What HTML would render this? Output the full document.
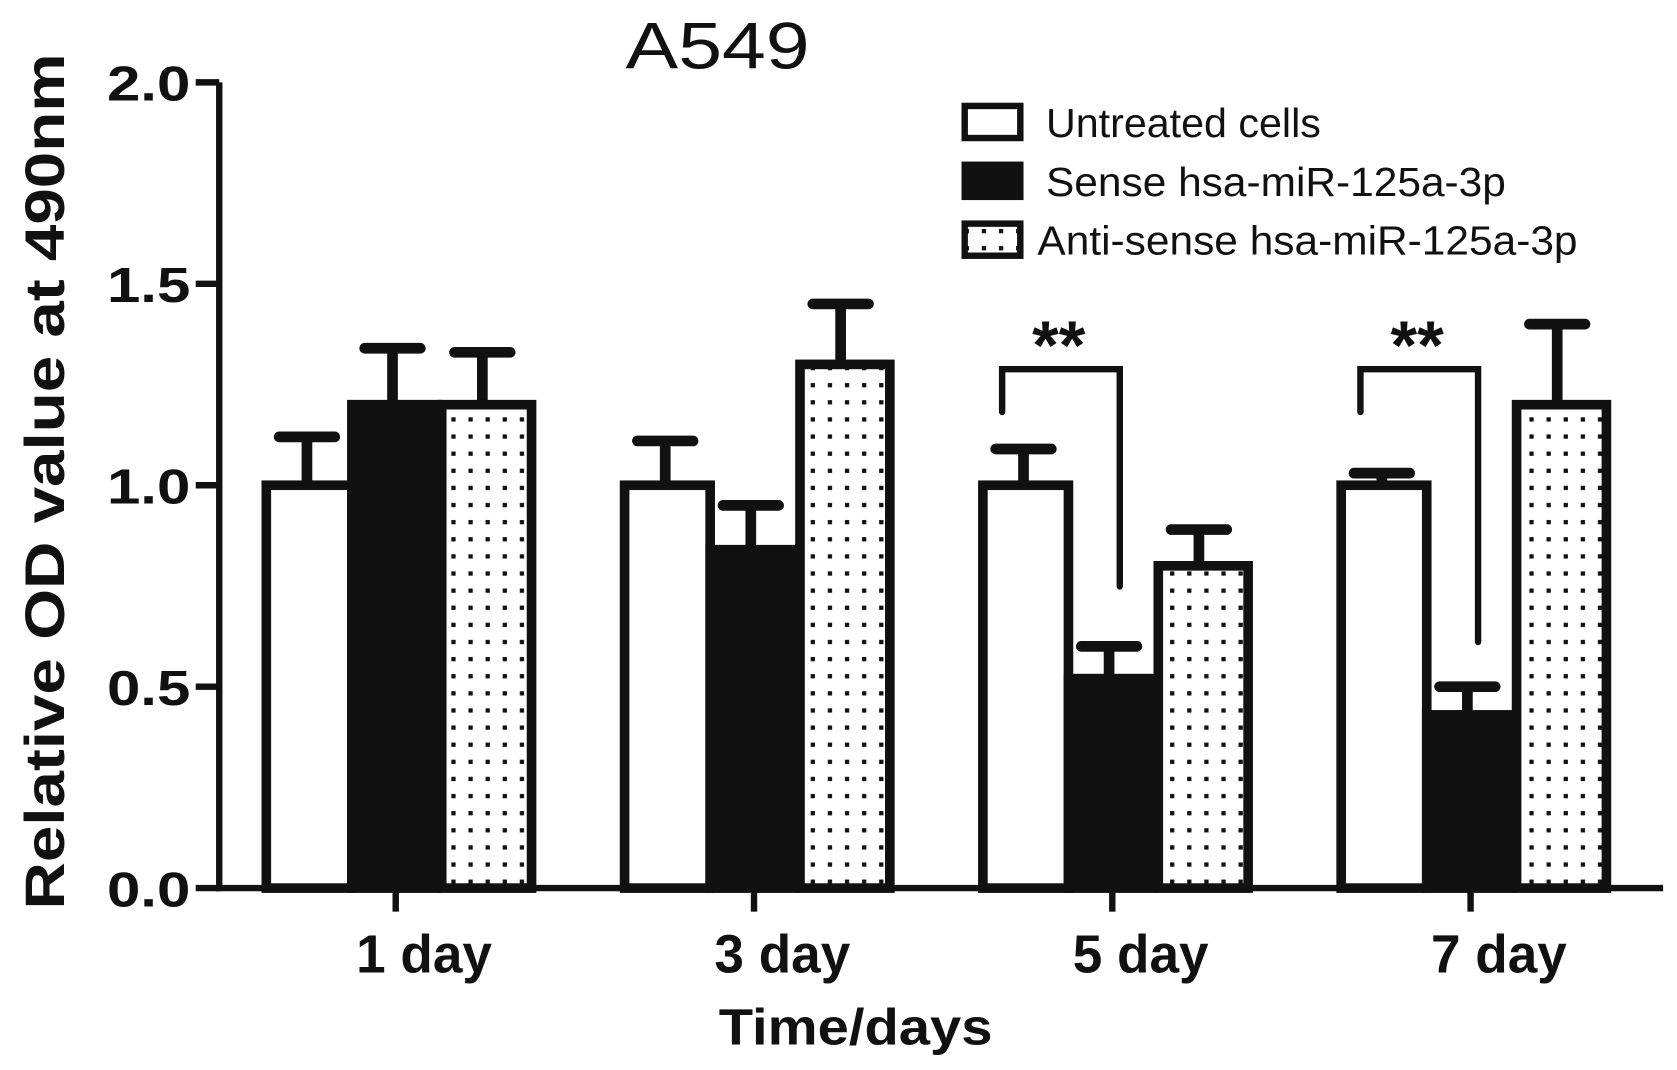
<!DOCTYPE html>
<html><head><meta charset="utf-8"><style>
html,body{margin:0;padding:0;background:#fff}
svg{display:block}
text{font-family:"Liberation Sans",Arial,sans-serif;fill:#111}
</style></head><body>
<svg id="chart" width="1677" height="1070" viewBox="0 0 1568 1000" preserveAspectRatio="none" xmlns="http://www.w3.org/2000/svg">
<defs>
<pattern id="dots" width="16" height="16" patternUnits="userSpaceOnUse">
<rect x="6" y="6" width="4" height="4" fill="#111"/>
</pattern>
</defs>
<text x="585" y="64" font-size="62" textLength="172" lengthAdjust="spacingAndGlyphs">A549</text>
<text transform="translate(60,450) rotate(-90)" font-size="52" font-weight="bold" text-anchor="middle" textLength="800" lengthAdjust="spacingAndGlyphs">Relative OD value at 490nm</text>
<text x="672" y="976" font-size="48" font-weight="bold" textLength="256" lengthAdjust="spacingAndGlyphs">Time/days</text>
<g id="axes"></g>
<g id="bars"></g>
<g>
<rect x="902" y="99" width="52" height="30" fill="#fff" stroke="#111" stroke-width="6"/>
<text x="978" y="128" font-size="38" textLength="257" lengthAdjust="spacingAndGlyphs">Untreated cells</text>
<rect x="902" y="154" width="52" height="30" fill="#111" stroke="#111" stroke-width="6"/>
<text x="978" y="183" font-size="38" textLength="430" lengthAdjust="spacingAndGlyphs">Sense hsa-miR-125a-3p</text>
<rect x="902" y="209" width="52" height="30" fill="url(#dots)" stroke="#111" stroke-width="6"/>
<text x="970" y="238" font-size="38" textLength="505" lengthAdjust="spacingAndGlyphs">Anti-sense hsa-miR-125a-3p</text>
</g>
<g id="sig"></g>
</svg>
<script>
const categories = ["1 day","3 day","5 day","7 day"];
const untreated = [1.0,1.0,1.0,1.0];
const untreatedErr = [0.12,0.11,0.09,0.03];
const sense = [1.2,0.84,0.52,0.43];
const senseErr = [0.14,0.11,0.08,0.07];
const antisense = [1.2,1.30,0.80,1.20];
const antisenseErr = [0.13,0.15,0.09,0.20];
const yTicks = [0,0.5,1.0,1.5,2.0];
const yTickLabels = ["0.0","0.5","1.0","1.5","2.0"];

const NS="http://www.w3.org/2000/svg";
const X0=205, X1=1555, Y0=830, Y2=77;
const y = v => Y0 - v*(Y0-Y2)/2;
const groupCenter = i => 370 + i*335;
const BW=84;
function mk(tag, attrs, parent){const e=document.createElementNS(NS,tag);for(const k in attrs)e.setAttribute(k,attrs[k]);parent.appendChild(e);return e;}
const axes=document.getElementById('axes');
let e=mk('line',{x1:X0,y1:Y2,x2:X0,y2:Y0+3,stroke:'#111','stroke-width':6},axes);


e=mk('line',{x1:X0-3,y1:Y0,x2:X1,y2:Y0,stroke:'#111','stroke-width':6},axes);


yTicks.forEach((t,i)=>{
  let l=mk('line',{x1:X0-22,y1:y(t),x2:X0,y2:y(t),stroke:'#111','stroke-width':6},axes);
  
  
  let tx=mk('text',{x:100,y:y(t)+17,'font-size':46,'font-weight':'bold',textLength:78,lengthAdjust:'spacingAndGlyphs'},axes);
  tx.textContent=yTickLabels[i];
  
  
});
categories.forEach((c,i)=>{
  let cx=groupCenter(i);
  let l=mk('line',{x1:cx,y1:Y0,x2:cx,y2:Y0+22,stroke:'#111','stroke-width':6},axes);
  
  
  let tx=mk('text',{x:cx-37,y:909,'font-size':50,'font-weight':'bold',textLength:127,lengthAdjust:'spacingAndGlyphs'},axes);
  tx.textContent=c;
  
  
});
const bars=document.getElementById('bars');
const series=[[untreated,untreatedErr,'#fff','untreated'],[sense,senseErr,'#111','sense'],[antisense,antisenseErr,'url(#dots)','antisense']];
categories.forEach((c,i)=>{
  series.forEach((s,j)=>{
    const v=s[0][i], er=s[1][i];
    const x=groupCenter(i)-125+j*BW+(j===2?-4:0)+(j===1?-4:0);
    const bx=x+BW/2;
    let el=mk('line',{x1:bx,y1:y(v),x2:bx,y2:y(v+er),stroke:'#111','stroke-width':10},bars);
    
    
    el=mk('line',{x1:bx-26,y1:y(v+er),x2:bx+26,y2:y(v+er),stroke:'#111','stroke-width':10,'stroke-linecap':'round'},bars);
    
    
    el=mk('rect',{x:x+4,y:y(v),width:BW-(j===2?0:4),height:Y0-y(v),fill:s[2],stroke:'#111','stroke-width':9},bars);
    
    
  });
});
const sig=document.getElementById('sig');
const sigGroups=[2,3];
const sigBottoms=[[385,548],[385,600]];
sigGroups.forEach((g,k)=>{
  const lx=groupCenter(g)-103, rx=groupCenter(g)+7;
  let p=mk('path',{d:`M${lx} ${sigBottoms[k][0]} L${lx} 345 L${rx} 345 L${rx} ${sigBottoms[k][1]}`,fill:'none',stroke:'#111','stroke-width':6,'stroke-linecap':'round'},sig);
  
  
  let t=mk('text',{x:groupCenter(g)-50,y:345,'font-size':64,'font-weight':'bold','text-anchor':'middle'},sig);
  t.textContent='**';
  
  
});
</script>
</body></html>
